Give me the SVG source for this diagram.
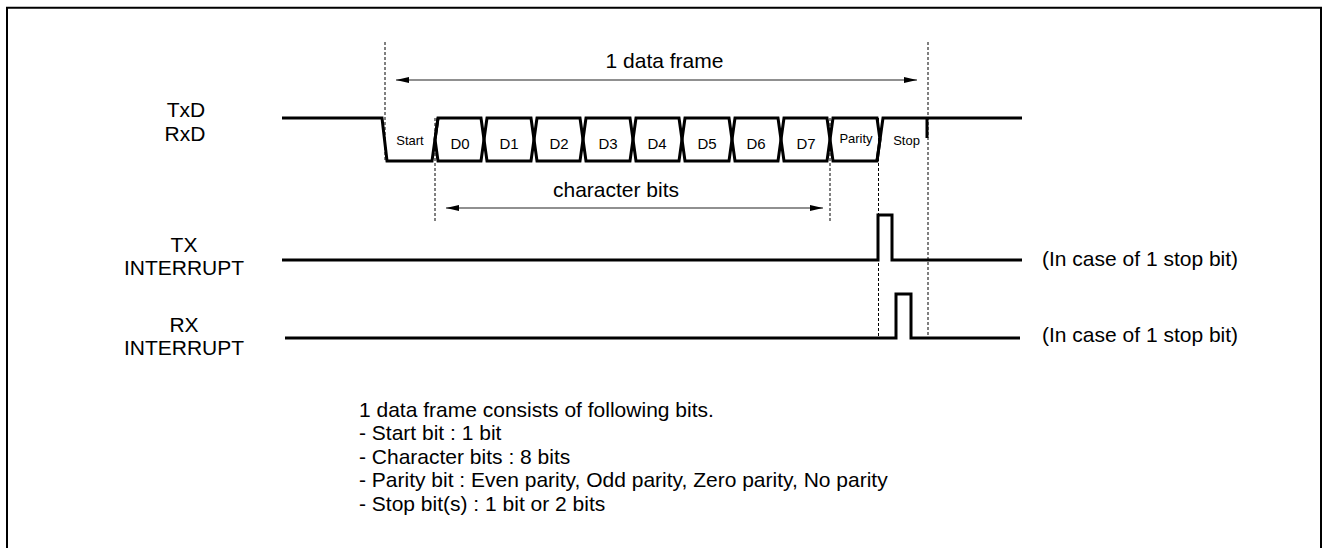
<svg xmlns="http://www.w3.org/2000/svg" width="1323" height="548" viewBox="0 0 1323 548">
<style>
text{font-family:"Liberation Sans",Arial,sans-serif;fill:#000}
.lbl{font-size:21px}
.mid{text-anchor:middle}
.cell{font-size:15px;text-anchor:middle}
.small{font-size:13px;text-anchor:middle}
.wave{fill:none;stroke:#000;stroke-width:3;stroke-linejoin:miter}
.dash{fill:none;stroke:#000;stroke-width:1;stroke-dasharray:3,2}
.arr{fill:none;stroke:#222;stroke-width:1.2}
</style>
<defs>
<marker id="ah" viewBox="0 0 13 6" refX="13" refY="3" markerWidth="13" markerHeight="6" markerUnits="userSpaceOnUse" orient="auto-start-reverse">
<path d="M0,0 L13,3 L0,6 Z" fill="#000"/>
</marker>
</defs>
<rect width="1323" height="548" fill="#fff"/>
<path id="frame" d="M7,548 V7.7 H1321 V548" fill="none" stroke="#000" stroke-width="2"/>

<g id="labels">
<text class="lbl mid" x="186" y="117">TxD</text>
<text class="lbl mid" x="185" y="141">RxD</text>
<text class="lbl mid" x="184" y="252">TX</text>
<text class="lbl mid" x="184" y="275">INTERRUPT</text>
<text class="lbl mid" x="184" y="332">RX</text>
<text class="lbl mid" x="184" y="355">INTERRUPT</text>
</g>

<g id="txd">
<path class="wave" d="M282,118 H382 L387,161 H432 L438,118"/>
<text class="small" x="410" y="145">Start</text>
<polygon class="wave" points="438,118 481,118 484,139.5 481,161 438,161 435,139.5"/>
<text class="cell" x="460" y="149">D0</text>
<polygon class="wave" points="487,118 531,118 534,139.5 531,161 487,161 484,139.5"/>
<text class="cell" x="509" y="149">D1</text>
<polygon class="wave" points="537,118 580,118 583,139.5 580,161 537,161 534,139.5"/>
<text class="cell" x="559" y="149">D2</text>
<polygon class="wave" points="586,118 630,118 633,139.5 630,161 586,161 583,139.5"/>
<text class="cell" x="608" y="149">D3</text>
<polygon class="wave" points="636,118 679,118 682,139.5 679,161 636,161 633,139.5"/>
<text class="cell" x="657" y="149">D4</text>
<polygon class="wave" points="685,118 729,118 732,139.5 729,161 685,161 682,139.5"/>
<text class="cell" x="707" y="149">D5</text>
<polygon class="wave" points="735,118 778,118 781,139.5 778,161 735,161 732,139.5"/>
<text class="cell" x="756" y="149">D6</text>
<polygon class="wave" points="784,118 827,118 830,139.5 827,161 784,161 781,139.5"/>
<text class="cell" x="806" y="149">D7</text>
<polygon class="wave" points="833,118 877,118 880,139.5 877,161 833,161 830,139.5"/>
<text class="small" x="856" y="143">Parity</text>
<path class="wave" d="M877,161 L883,118 H1022"/>
<path class="wave" d="M927,118 V138"/>
<text class="small" x="906.5" y="145">Stop</text>
</g>

<g id="tx-interrupt">
<path class="wave" d="M282,260 H878 V215 H892 V260 H1022"/>
<text class="lbl" x="1042" y="266">(In case of 1 stop bit)</text>
</g>

<g id="rx-interrupt">
<path class="wave" d="M285,338 H896 V294 H911 V338 H1020"/>
<text class="lbl" x="1042" y="342">(In case of 1 stop bit)</text>
</g>

<g id="connectors">
<line class="dash" x1="385" y1="42" x2="385" y2="162"/>
<line class="dash" x1="928" y1="42" x2="928" y2="337"/>
<line class="dash" x1="435" y1="118" x2="435" y2="223"/>
<line class="dash" x1="830" y1="118" x2="830" y2="222"/>
<line class="dash" x1="878.5" y1="118" x2="878.5" y2="337"/>
<line class="arr" x1="396" y1="80" x2="917" y2="80" marker-start="url(#ah)" marker-end="url(#ah)"/>
<line class="arr" x1="446" y1="208" x2="823" y2="208" marker-start="url(#ah)" marker-end="url(#ah)"/>
</g>

<g id="arrow-labels">
<text class="lbl mid" x="664.5" y="68">1 data frame</text>
<text class="lbl mid" x="616" y="197">character bits</text>
</g>

<g id="notes">
<text class="lbl" x="359" y="416.5">1 data frame consists of following bits.</text>
<text class="lbl" x="359" y="440">- Start bit : 1 bit</text>
<text class="lbl" x="359" y="463.5">- Character bits : 8 bits</text>
<text class="lbl" x="359" y="487">- Parity bit : Even parity, Odd parity, Zero parity, No parity</text>
<text class="lbl" x="359" y="510.5">- Stop bit(s) : 1 bit or 2 bits</text>
</g>
</svg>
